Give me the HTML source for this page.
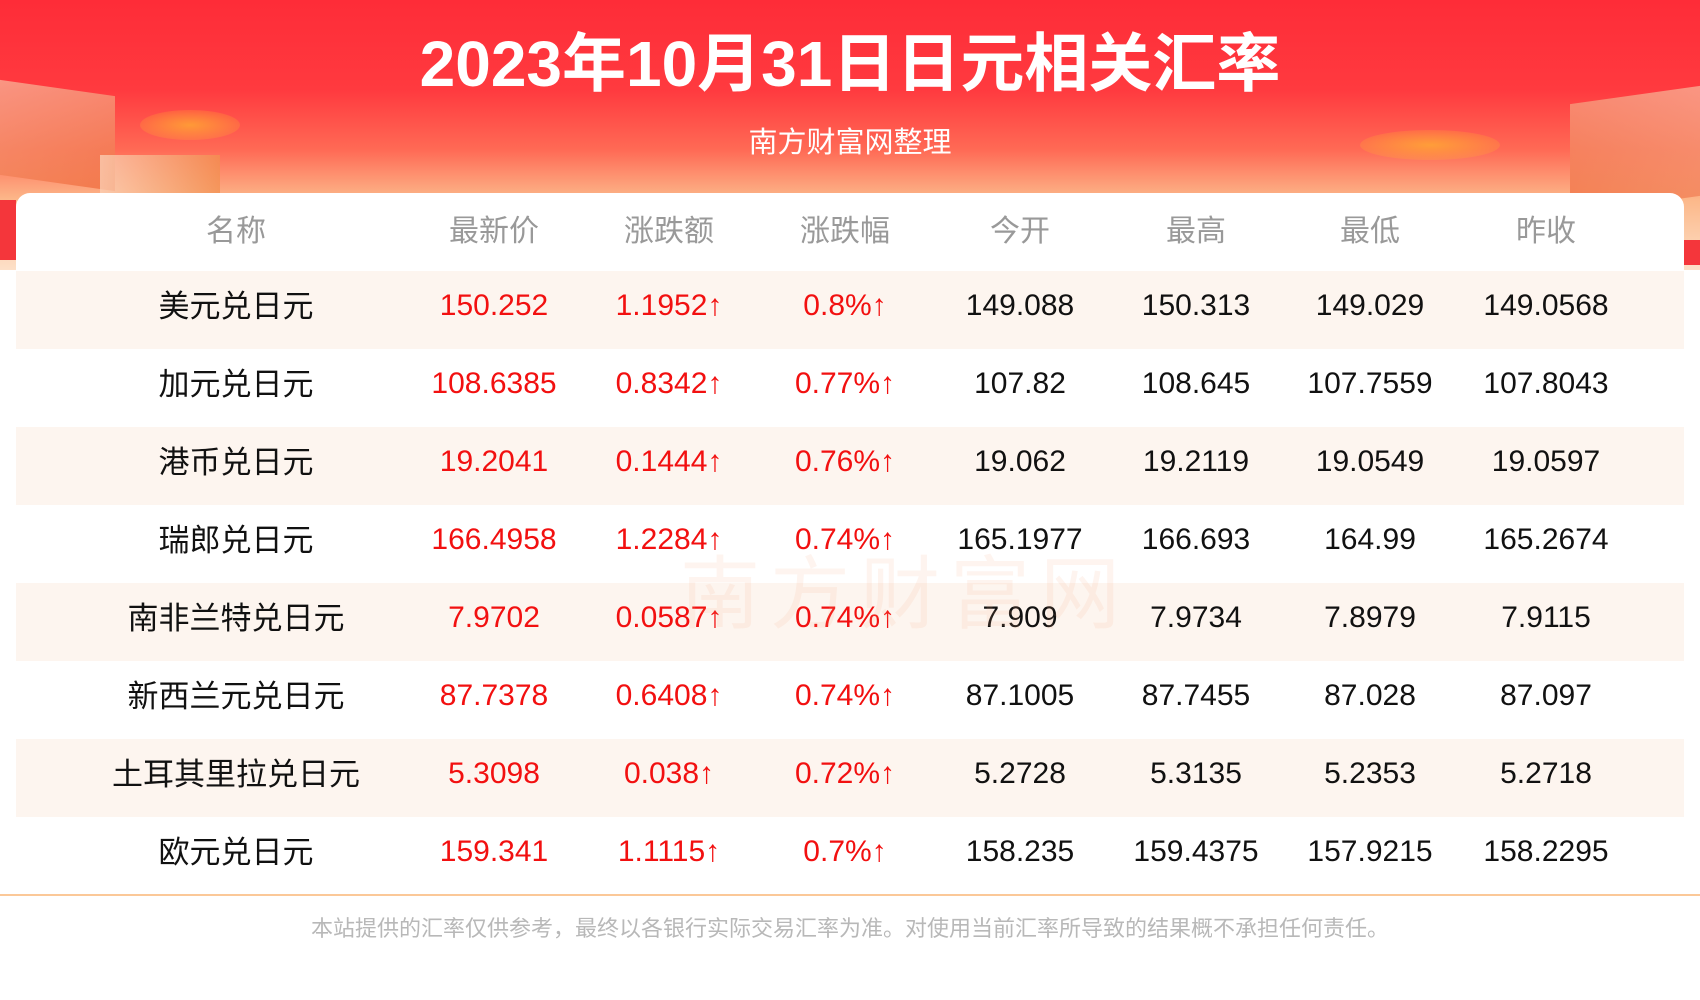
<!DOCTYPE html>
<html><head><meta charset="utf-8"><style>
*{margin:0;padding:0;box-sizing:border-box}
body{width:1700px;height:1000px;overflow:hidden;background:#fff;font-family:"Liberation Sans","Noto Sans CJK SC",sans-serif;position:relative}
.bg{position:absolute;left:0;top:0;width:1700px;height:270px;background:linear-gradient(180deg,#fe2c38 0px,#ff3a3f 90px,#ff6a55 150px,#fcb88a 200px,#fde0c8 270px)}
.deco{position:absolute;opacity:.75}
h1{position:absolute;top:13px;left:0;width:1700px;text-align:center;color:#fff;font-size:64px;font-weight:bold}
.sub{position:absolute;top:119px;left:0;width:1700px;text-align:center;color:#fff;font-size:29px}
.card{position:absolute;left:16px;top:193px;width:1668px;height:703px;background:#fff;border-radius:14px 14px 0 0}
.row{position:absolute;left:0;width:1668px;height:78px;display:flex;align-items:center;font-size:30px;color:#111}
.row.t{background:#fdf5ef}
.row div{position:absolute;transform:translate(-50%,-4px);white-space:nowrap}
.row div.nm{font-size:31px;transform:translate(-50%,-7px)}
.hd{color:#999;font-size:30px}
.r{color:#f21010}
.line{position:absolute;left:0;top:894px;width:1700px;height:2px;background:#fbc898}
.foot{position:absolute;top:911px;left:0;width:1700px;text-align:center;color:#b8b8b8;font-size:22px}
.wm{position:absolute;left:680px;top:530px;font-size:80px;color:rgba(250,170,130,.13);letter-spacing:10px}
</style></head><body>
<div class="bg"></div>
<div class="deco" style="left:0;top:88px;width:115px;height:95px;background:linear-gradient(160deg,#f8b59a,#ef6a3a);transform:skewY(8deg)"></div>
<div class="deco" style="left:140px;top:110px;width:100px;height:30px;border-radius:50%;background:radial-gradient(#ffb030,rgba(255,120,40,0))"></div>
<div class="deco" style="left:100px;top:155px;width:120px;height:40px;background:linear-gradient(90deg,#fbd2b8,#f29050)"></div>
<div class="deco" style="left:1570px;top:95px;width:130px;height:110px;background:linear-gradient(200deg,#f8b59a,#ef6a3a);transform:skewY(-8deg)"></div>
<div class="deco" style="left:1360px;top:130px;width:140px;height:30px;border-radius:50%;background:radial-gradient(#ffb030,rgba(255,120,40,0))"></div>
<div style="position:absolute;left:0;top:200px;width:16px;height:60px;background:#f4363b"></div>
<div style="position:absolute;left:1684px;top:240px;width:16px;height:25px;background:#f4363b"></div>
<h1>2023年10月31日日元相关汇率</h1>
<div class="sub">南方财富网整理</div>
<div class="card">
<div class="row hd" style="top:0"><div style="left:220px">名称</div><div style="left:478px">最新价</div><div style="left:653px">涨跌额</div><div style="left:829px">涨跌幅</div><div style="left:1004px">今开</div><div style="left:1180px">最高</div><div style="left:1354px">最低</div><div style="left:1530px">昨收</div></div>
</div>
<div class="line"></div>
<div class="foot">本站提供的汇率仅供参考，最终以各银行实际交易汇率为准。对使用当前汇率所导致的结果概不承担任何责任。</div>
<div style="position:absolute;left:16px;top:271px;width:1668px">
<div class="row t" style="top:0"><div class="nm" style="left:220px">美元兑日元</div><div class="r" style="left:478px">150.252</div><div class="r" style="left:653px">1.1952↑</div><div class="r" style="left:829px">0.8%↑</div><div style="left:1004px">149.088</div><div style="left:1180px">150.313</div><div style="left:1354px">149.029</div><div style="left:1530px">149.0568</div></div>
<div class="row" style="top:78px"><div class="nm" style="left:220px">加元兑日元</div><div class="r" style="left:478px">108.6385</div><div class="r" style="left:653px">0.8342↑</div><div class="r" style="left:829px">0.77%↑</div><div style="left:1004px">107.82</div><div style="left:1180px">108.645</div><div style="left:1354px">107.7559</div><div style="left:1530px">107.8043</div></div>
<div class="row t" style="top:156px"><div class="nm" style="left:220px">港币兑日元</div><div class="r" style="left:478px">19.2041</div><div class="r" style="left:653px">0.1444↑</div><div class="r" style="left:829px">0.76%↑</div><div style="left:1004px">19.062</div><div style="left:1180px">19.2119</div><div style="left:1354px">19.0549</div><div style="left:1530px">19.0597</div></div>
<div class="row" style="top:234px"><div class="nm" style="left:220px">瑞郎兑日元</div><div class="r" style="left:478px">166.4958</div><div class="r" style="left:653px">1.2284↑</div><div class="r" style="left:829px">0.74%↑</div><div style="left:1004px">165.1977</div><div style="left:1180px">166.693</div><div style="left:1354px">164.99</div><div style="left:1530px">165.2674</div></div>
<div class="row t" style="top:312px"><div class="nm" style="left:220px">南非兰特兑日元</div><div class="r" style="left:478px">7.9702</div><div class="r" style="left:653px">0.0587↑</div><div class="r" style="left:829px">0.74%↑</div><div style="left:1004px">7.909</div><div style="left:1180px">7.9734</div><div style="left:1354px">7.8979</div><div style="left:1530px">7.9115</div></div>
<div class="row" style="top:390px"><div class="nm" style="left:220px">新西兰元兑日元</div><div class="r" style="left:478px">87.7378</div><div class="r" style="left:653px">0.6408↑</div><div class="r" style="left:829px">0.74%↑</div><div style="left:1004px">87.1005</div><div style="left:1180px">87.7455</div><div style="left:1354px">87.028</div><div style="left:1530px">87.097</div></div>
<div class="row t" style="top:468px"><div class="nm" style="left:220px">土耳其里拉兑日元</div><div class="r" style="left:478px">5.3098</div><div class="r" style="left:653px">0.038↑</div><div class="r" style="left:829px">0.72%↑</div><div style="left:1004px">5.2728</div><div style="left:1180px">5.3135</div><div style="left:1354px">5.2353</div><div style="left:1530px">5.2718</div></div>
<div class="row" style="top:546px"><div class="nm" style="left:220px">欧元兑日元</div><div class="r" style="left:478px">159.341</div><div class="r" style="left:653px">1.1115↑</div><div class="r" style="left:829px">0.7%↑</div><div style="left:1004px">158.235</div><div style="left:1180px">159.4375</div><div style="left:1354px">157.9215</div><div style="left:1530px">158.2295</div></div>
</div>
<div class="wm">南方财富网</div>
</body></html>
